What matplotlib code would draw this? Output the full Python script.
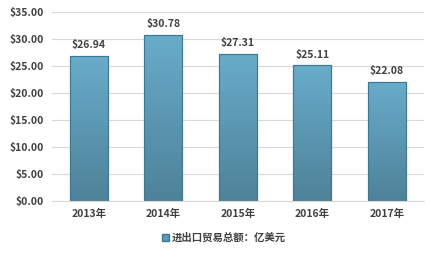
import matplotlib
matplotlib.use("Agg")
import matplotlib.pyplot as plt
import numpy as np
from matplotlib.colors import LinearSegmentedColormap
from matplotlib.patches import Rectangle

plt.rcParams['font.family'] = ['Noto Sans CJK SC', 'DejaVu Sans']

years = ["2013年", "2014年", "2015年", "2016年", "2017年"]
values = [26.94, 30.78, 27.31, 25.11, 22.08]
series_name = "进出口贸易总额：亿美元"

text_color = "#404040"
bar_top = "#68acca"
bar_bottom = "#4e8299"


def main():
    fig = plt.figure(figsize=(4.32, 2.56), dpi=100)
    ax = fig.add_axes([0.120, 0.215, 0.861, 0.738])

    x = np.arange(len(years))
    width = 0.51
    bars = ax.bar(x, values, width=width, color=bar_top,
                  edgecolor="#3d7891", linewidth=0.8, zorder=2)

    # vertical gradient inside each bar
    cmap = LinearSegmentedColormap.from_list("g", [bar_bottom, bar_top])
    grad = np.linspace(0, 1, 100).reshape(-1, 1)
    for b in bars:
        x0, w, h = b.get_x(), b.get_width(), b.get_height()
        im = ax.imshow(grad, cmap=cmap, aspect="auto", origin="lower",
                       extent=[x0, x0 + w, 0, h], zorder=2.5)
        clip = Rectangle((x0, 0), w, h, transform=ax.transData)
        im.set_clip_path(clip)
        ax.add_patch(Rectangle((x0, 0), w, h, fill=False,
                               edgecolor="#3d7891", linewidth=0.8, zorder=3))
        ax.text(x0 + w / 2, h + 1.0, "$%.2f" % h, ha="center", va="bottom",
                fontsize=7.5, fontweight="bold", color=text_color)

    ax.set_xlim(-0.5, len(years) - 0.5)
    ax.set_ylim(0, 35)
    ax.set_yticks(np.arange(0, 36, 5))
    ax.set_yticklabels(["$%.2f" % v for v in np.arange(0, 36, 5)])
    ax.set_xticks(x)
    ax.set_xticklabels(years)
    ax.grid(axis="y", color="#d9d9d9", linewidth=0.8, zorder=0)
    ax.set_axisbelow(True)
    for s in ["top", "right", "left"]:
        ax.spines[s].set_visible(False)
    ax.spines["bottom"].set_color("#d9d9d9")
    ax.tick_params(length=0, labelsize=7.5, colors=text_color, pad=6)
    for lbl in ax.get_xticklabels() + ax.get_yticklabels():
        lbl.set_fontweight("bold")

    handle = Rectangle((0, 0), 1, 1, facecolor="#5a9ab8", edgecolor="#3d7891")
    leg = fig.legend([handle], [series_name], loc="center",
                     bbox_to_anchor=(0.518, 0.07), frameon=False,
                     handlelength=0.7, handleheight=0.7, handletextpad=0.3,
                     prop={'size': 7.5, 'weight': 'bold'})
    for t in leg.get_texts():
        t.set_color(text_color)

    fig.savefig("out.png", dpi=100)


if __name__ == "__main__":
    main()
